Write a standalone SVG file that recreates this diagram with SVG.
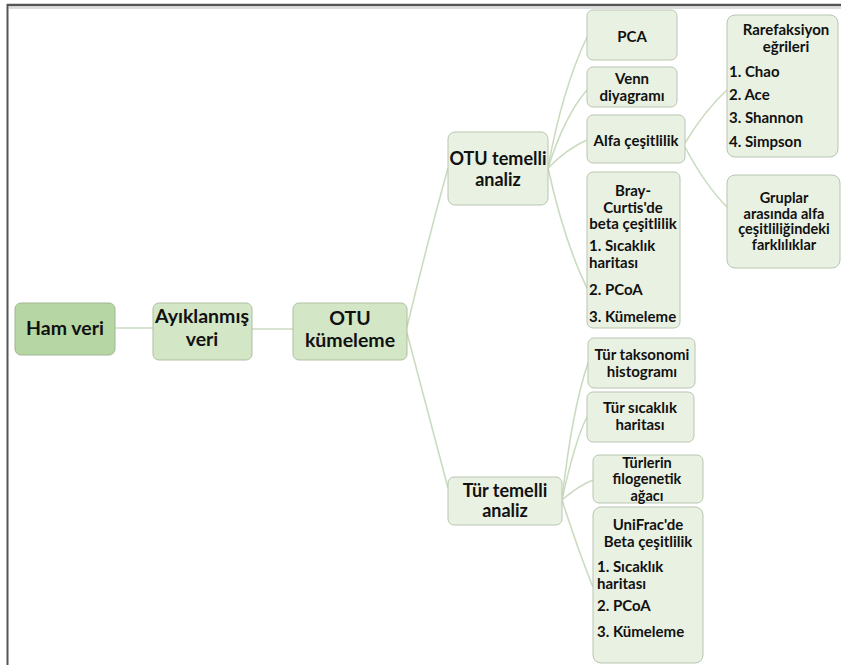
<svg xmlns="http://www.w3.org/2000/svg" width="841" height="665" viewBox="0 0 841 665">
<style>
.n{fill:#e9f1e2;stroke:#b9c5b0;stroke-width:1}
.n1{fill:#b6d7a3;stroke:#9fb593;stroke-width:1}
.n2{fill:#d3e6c6;stroke:#aebfa3;stroke-width:1}
.c{fill:none;stroke:#cadcc0;stroke-width:1.6}
text{font-family:Lato,"Open Sans","Liberation Sans",sans-serif;font-weight:bold;fill:#111}
.m{text-anchor:middle}
.t1{font-size:19.5px}
.t2{font-size:18px}
.t3{font-size:15px}
.t4{font-size:14.5px}
</style>
<rect x="0" y="0" width="841" height="665" fill="#fff"/>
<g id="frame">
<line x1="7" y1="5" x2="841" y2="5" stroke="#555" stroke-width="2.4"/>
<line x1="9" y1="8" x2="841" y2="8" stroke="#bbb" stroke-width="1"/>
<line x1="7.5" y1="4" x2="7.5" y2="665" stroke="#555" stroke-width="2"/>
</g>
<g id="connectors">
<path class="c" d="M115,328 L153,328"/>
<path class="c" d="M252,329 L293,329"/>
<path class="c" d="M407,327 Q428,240 448,168"/>
<path class="c" d="M407,333 Q430,420 448,488"/>
<path class="c" d="M548,168 Q562,90 587,37"/>
<path class="c" d="M548,168 Q565,115 587,90"/>
<path class="c" d="M548,168 Q568,148 587,140"/>
<path class="c" d="M548,168 Q565,245 589,292"/>
<path class="c" d="M685,143 Q705,110 727,90"/>
<path class="c" d="M685,147 Q705,185 727,207"/>
<path class="c" d="M562,500 Q572,410 588,363"/>
<path class="c" d="M562,500 Q575,440 587,417"/>
<path class="c" d="M562,500 Q578,486 593,480"/>
<path class="c" d="M562,500 Q578,550 593,587"/>
</g>
<g id="n-ham"><rect class="n1" x="15" y="303" width="100" height="52" rx="6"/><text class="m t1" x="65" y="335">Ham veri</text></g>
<g id="n-ayik"><rect class="n2" x="153" y="303" width="99" height="57" rx="6"/><text class="m t1" x="202" y="323">Ayıklanmış</text><text class="m t1" x="202" y="346">veri</text></g>
<g id="n-otu"><rect class="n2" x="293" y="303" width="114" height="57" rx="6"/><text class="m t1" x="350" y="325">OTU</text><text class="m t1" x="350" y="347">kümeleme</text></g>
<g id="n-otutemelli"><rect class="n" x="448" y="132" width="100" height="73" rx="7"/><text class="m t2" x="498" y="165">OTU temelli</text><text class="m t2" x="498" y="186">analiz</text></g>
<g id="n-turtemelli"><rect class="n" x="448" y="477" width="114" height="48" rx="6"/><text class="m t2" x="505" y="497">Tür temelli</text><text class="m t2" x="505" y="517">analiz</text></g>
<g id="n-pca"><rect class="n" x="587" y="10" width="90" height="50" rx="6"/><text class="m t3" x="632" y="42">PCA</text></g>
<g id="n-venn"><rect class="n" x="587" y="67" width="90" height="40" rx="6"/><text class="m t3" x="632" y="84">Venn</text><text class="m t3" x="632" y="101">diyagramı</text></g>
<g id="n-alfa"><rect class="n" x="587" y="115" width="98" height="48" rx="6"/><text class="m t3" x="636" y="146">Alfa çeşitlilik</text></g>
<g id="n-bray"><rect class="n" x="587" y="172" width="93" height="156" rx="6"/><text class="m t3" x="633" y="196">Bray-</text><text class="m t3" x="633" y="212.5">Curtis'de</text><text class="m t3" x="633" y="229">beta çeşitlilik</text><text class="t3" x="589" y="251">1. Sıcaklık</text><text class="t3" x="589" y="268">haritası</text><text class="t3" x="589" y="295">2. PCoA</text><text class="t3" x="589" y="322">3. Kümeleme</text></g>
<g id="n-rare"><rect class="n" x="727" y="15" width="111" height="142" rx="8"/><text class="m t3" x="786" y="35">Rarefaksiyon</text><text class="m t3" x="786" y="52">eğrileri</text><text class="t3" x="729" y="77">1. Chao</text><text class="t3" x="729" y="100">2. Ace</text><text class="t3" x="729" y="123">3. Shannon</text><text class="t3" x="729" y="147">4. Simpson</text></g>
<g id="n-gruplar"><rect class="n" x="727" y="175" width="113" height="93" rx="8"/><text class="m t4" x="784" y="203">Gruplar</text><text class="m t4" x="784" y="218.5">arasında alfa</text><text class="m t4" x="784" y="234">çeşitliliğindeki</text><text class="m t4" x="784" y="249.5">farklılıklar</text></g>
<g id="n-turtak"><rect class="n" x="588" y="338" width="107" height="50" rx="6"/><text class="m t3" x="642" y="360">Tür taksonomi</text><text class="m t3" x="642" y="377">histogramı</text></g>
<g id="n-tursic"><rect class="n" x="587" y="392" width="107" height="50" rx="6"/><text class="m t3" x="640" y="413">Tür sıcaklık</text><text class="m t3" x="640" y="430">haritası</text></g>
<g id="n-filo"><rect class="n" x="593" y="455" width="110" height="48" rx="6"/><text class="m t4" x="647" y="467.5">Türlerin</text><text class="m t4" x="647" y="483.5">filogenetik</text><text class="m t4" x="647" y="501">ağacı</text></g>
<g id="n-unifrac"><rect class="n" x="593" y="507" width="110" height="156" rx="8"/><text class="m t3" x="648" y="530">UniFrac'de</text><text class="m t3" x="648" y="546.5">Beta çeşitlilik</text><text class="t3" x="597" y="572">1. Sıcaklık</text><text class="t3" x="597" y="589">haritası</text><text class="t3" x="597" y="611">2. PCoA</text><text class="t3" x="597" y="637">3. Kümeleme</text></g>
</svg>
